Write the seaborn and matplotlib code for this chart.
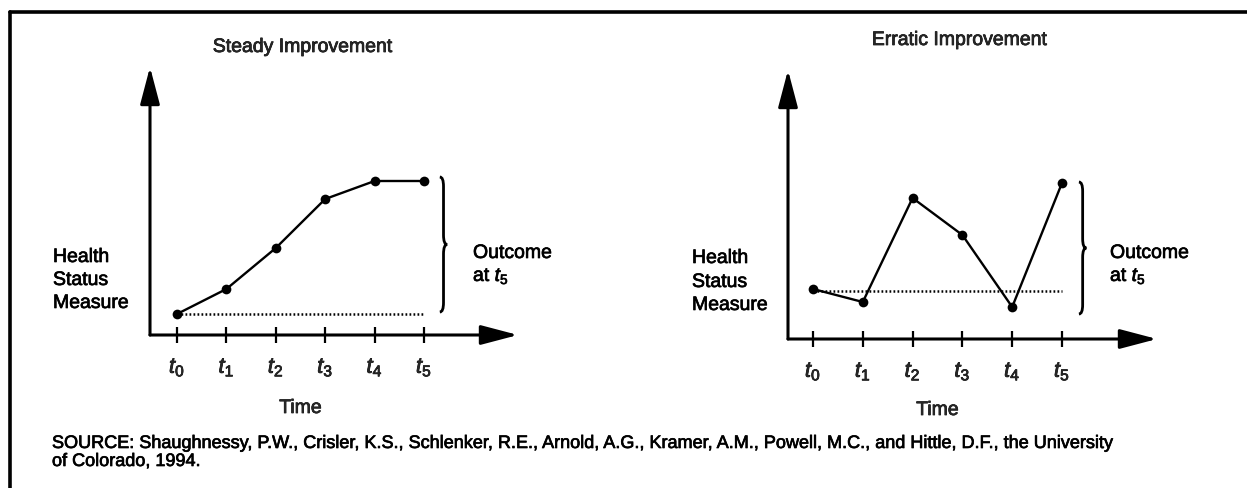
import matplotlib
matplotlib.use("Agg")
import matplotlib.pyplot as plt
import matplotlib.transforms as mtransforms
import matplotlib.patheffects as pe
from matplotlib.path import Path
from matplotlib.patches import PathPatch
from matplotlib.lines import Line2D
import seaborn as sns

# Data (arbitrary health-status units)
TIMES = [0, 1, 2, 3, 4, 5]
TICK_LABELS = [r"$t_0$", r"$t_1$", r"$t_2$", r"$t_3$", r"$t_4$", r"$t_5$"]
STEADY = [2.1, 4.6, 8.7, 13.6, 15.4, 15.4]
ERRATIC = [5.0, 3.7, 14.1, 10.4, 3.2, 15.6]
STEADY_BASE = 2.1
ERRATIC_BASE = 4.8
TITLES = ["Steady Improvement", "Erratic Improvement"]
SOURCE_1 = ("SOURCE: Shaughnessy, P.W., Crisler, K.S., Schlenker, R.E., Arnold, A.G., "
            "Kramer, A.M., Powell, M.C., and Hittle, D.F., the University")
SOURCE_2 = "of Colorado, 1994."

sns.set_theme(style="white")
plt.rcParams["font.family"] = ["Liberation Sans", "DejaVu Sans"]
plt.rcParams["mathtext.fontset"] = "custom"
plt.rcParams["mathtext.rm"] = "Liberation Sans"
plt.rcParams["mathtext.it"] = "Liberation Sans:italic"

W, H = 1247, 488
FS = 14
INK = [pe.withStroke(linewidth=0.5, foreground="black")]  # scanned print looks heavier
fig = plt.figure(figsize=(W / 100, H / 100), dpi=100)
fig.patch.set_facecolor("white")


def px_axes(left, right, bottom, top):
    return fig.add_axes([left / W, 1 - bottom / H, (right - left) / W, (bottom - top) / H])


def put(x, y, s, size=FS, **kw):
    fig.text(x / W, 1 - y / H, s, fontsize=size, color="black", path_effects=INK, **kw)


def brace(ax, x, y0, y1, w):
    ym = (y0 + y1) / 2
    r = (y1 - y0) * 0.07
    xm = x + w / 2
    verts = [(x, y1), (xm, y1), (xm, y1 - r),
             (xm, ym + r), (xm, ym), (x + w, ym),
             (xm, ym), (xm, ym - r),
             (xm, y0 + r), (xm, y0), (x, y0)]
    codes = [Path.MOVETO, Path.CURVE3, Path.CURVE3,
             Path.LINETO, Path.CURVE3, Path.CURVE3,
             Path.CURVE3, Path.CURVE3,
             Path.LINETO, Path.CURVE3, Path.CURVE3]
    ax.add_patch(PathPatch(Path(verts, codes), fill=False, lw=2,
                           edgecolor="black", clip_on=False))


def panel(ax, values, base, xlim, ylim):
    sns.lineplot(x=TIMES, y=values, ax=ax, color="black", linewidth=1.7,
                 marker="o", markersize=7, markeredgewidth=0)
    sns.lineplot(x=[TIMES[0], TIMES[-1]], y=[base, base], ax=ax, color="black",
                 linewidth=1.8, linestyle=(0, (0.7, 0.9)))
    ax.set_xlim(*xlim)
    ax.set_ylim(*ylim)
    ax.set_xlabel("")
    ax.set_ylabel("")
    ax.set_yticks([])
    ax.set_xticks(TIMES)
    ax.set_xticklabels(TICK_LABELS, fontsize=16)
    for lab in ax.get_xticklabels():
        lab.set_path_effects(INK)
    ax.tick_params(axis="x", bottom=True, direction="inout", length=12,
                   width=1.6, color="black", pad=9)
    for sp in ax.spines.values():
        sp.set_visible(False)
    ax.patch.set_alpha(0)
    arrow = dict(arrowstyle="-|>,head_length=1.9,head_width=0.5", lw=2.2,
                 color="black", shrinkA=0, shrinkB=0)
    ax.annotate("", xy=(1, 0), xytext=(0, 0), xycoords="axes fraction",
                textcoords="axes fraction", arrowprops=arrow)
    ax.annotate("", xy=(0, 1), xytext=(0, 0), xycoords="axes fraction",
                textcoords="axes fraction", arrowprops=arrow)


# left panel: steady improvement
ax1 = px_axes(150, 518, 335, 67)
panel(ax1, STEADY, STEADY_BASE, (-0.547, 6.903), (0, 26.8))
brace(ax1, 5.32, 2.3, 15.8, 0.15)

# right panel: erratic improvement
ax2 = px_axes(788, 1157, 339, 70)
panel(ax2, ERRATIC, ERRATIC_BASE, (-0.502, 6.908), (0, 26.9))
brace(ax2, 5.34, 2.5, 15.7, 0.15)

for ax, title, title_x, title_y, time_y in [(ax1, TITLES[0], 2.55, 52, 413),
                                            (ax2, TITLES[1], 2.95, 45, 415)]:
    trans = mtransforms.blended_transform_factory(ax.transData, fig.transFigure)
    ax.text(title_x, 1 - title_y / H, title, transform=trans, ha="center",
            va="baseline", fontsize=FS, path_effects=INK)
    ax.text(2.5, 1 - time_y / H, "Time", transform=trans, ha="center",
            va="baseline", fontsize=FS, path_effects=INK)

# side labels
for x, ys in [(53, (262, 285, 308)), (692, (263, 287, 310))]:
    for y, s in zip(ys, ["Health", "Status", "Measure"]):
        put(x, y, s, ha="left", va="baseline")
for x in (473, 1110):
    put(x, 258, "Outcome", ha="left", va="baseline")
    put(x, 281, r"at $t_5$", ha="left", va="baseline")

# source note
put(52, 448, SOURCE_1, size=13, ha="left", va="baseline")
put(52, 466, SOURCE_2, size=13, ha="left", va="baseline")

# frame lines (top and left)
fig.add_artist(Line2D([10 / W, 1.0], [1 - 12 / H, 1 - 12 / H], lw=2.6, color="black"))
fig.add_artist(Line2D([10 / W, 10 / W], [1 - 12 / H, 0.0], lw=2.6, color="black"))

fig.savefig("out.png", dpi=100, facecolor="white")
